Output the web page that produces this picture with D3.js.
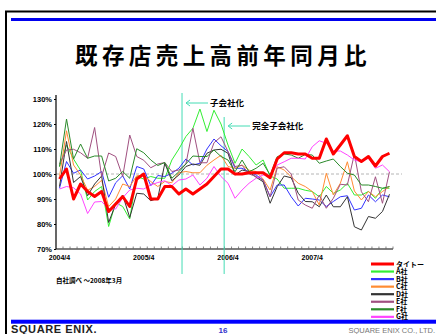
<!DOCTYPE html>
<html>
<head>
<meta charset="utf-8">
<script src="https://cdn.jsdelivr.net/npm/d3@7"></script>
<style>
  body { margin: 0; background: #fff; }
  svg { display: block; }
  text { font-family: Arial, "Liberation Sans", sans-serif; }
  .jp { font-family: "Noto Sans CJK JP", sans-serif; font-weight: 700; }
</style>
</head>
<body>
<div id="chart"></div>
<script>
// categories: 2004/4 .. 2008/3
const months = d3.range(48).map(i => `${2004 + Math.floor((i + 3) / 12)}/${(i + 3) % 12 + 1}`);
const tickLabels = ['2004/4', '2005/4', '2006/4', '2007/4'];
const yTicks = [70, 80, 90, 100, 110, 120, 130];

const seriesNames = ['タイトー', 'A社', 'B社', 'C社', 'D社', 'E社', 'F社', 'G社'];
const seriesColors = ['#ff0000', '#33ee33', '#3333ff', '#ff8c33', '#333333', '#a05080', '#2a8a2a', '#ff44ff'];

const taito = [98, 102, 90, 96, 93, 91, 93, 85, 88, 91, 87, 98, 100, 90, 90, 95, 95, 92, 94, 92, 94, 96, 99, 102,
  102, 100, 100, 100.5, 100.5, 100.5, 98.5, 106, 108.5, 108.5, 108, 108, 106.3, 106.3, 114, 108, 111.6, 115.3, 107, 105, 107, 103.2, 107, 108.3];
const compA = [103, 111.6, 106, 101.5, 89.6, 93, 95, 79, 88.5, 87, 82, 99, 98, 99, 98.3, 98.3, 105.6, 110, 115, 118.3, 126, 117, 125.5, 120,
  111.6, 104.3, 110, 107, 103.6, 105.6, 99.2, 98, 94.3, 94.3, 94.3, 93.5, 93, 90.9, 95, 92.3, 93.6, 96.3, 91.6, 91.6, 93, 90.3, 94.3, 94.3];
const compB = [94.3, 105, 100.3, 101.6, 98, 99.2, 101, 90.7, 96.5, 99.3, 94, 103, 102, 95.3, 99.4, 99, 100.3, 102.3, 106, 103.6, 104.3, 110, 114, 111.3,
  109, 102.3, 102.3, 100.9, 99.6, 97.6, 90.9, 95.6, 95.6, 90.9, 87.2, 90.3, 90, 89.6, 87, 89, 90.9, 91.3, 85.6, 86.3, 91.6, 88.9, 91.6, 90.9];
const compC = [99, 117.3, 103.6, 99.6, 93.5, 95, 97.5, 87, 90, 96, 95, 99.3, 99.5, 97, 95, 97, 96.5, 100.5, 101, 100.5, 100.5, 103.5, 105.6, 107.5,
  103, 102.3, 103.6, 101.5, 101, 98, 93.6, 102.9, 101.6, 98.9, 96.3, 95, 93, 87.6, 100.3, 91.6, 96.3, 104.9, 93.2, 89.6, 93, 90.9, 93, 95];
const compD = [95, 113, 96.6, 99, 91.3, 96, 99.2, 80.6, 88, 91.6, 82.6, 92.3, 92, 89.3, 90.3, 104.3, 97.3, 99.6, 103, 104, 103.5, 108.3, 109.6, 109.9,
  108.3, 99.6, 101.6, 100.9, 98.7, 96.9, 88.3, 94.9, 99.2, 98.5, 92.3, 89, 88.9, 86.9, 91.6, 86.9, 86.9, 90.9, 78.9, 77.6, 83, 82.3, 85, 91.9];
const compE = [104, 109.6, 109.9, 108.5, 106.3, 118.6, 99, 108.4, 107, 99, 115.6, 107, 105.5, 102.5, 104, 104.6, 101, 101.6, 104, 118.3, 104.5, 104.5, 112.5, 114.9,
  109, 103, 103.5, 100, 99, 97.5, 90.9, 102.3, 102.9, 100, 89.6, 87.6, 86.3, 91.6, 86.3, 90.3, 95.9, 95.6, 108, 92.9, 88.9, 98.9, 88.3, 100.9];
const compF = [103, 122, 106, 112, 106.3, 107.2, 107.2, 97.2, 98.3, 101, 98.3, 110.1, 108.5, 105.6, 103.4, 104.6, 98.3, 100.9, 104, 107.2, 107, 107, 109.6, 107,
  105.6, 100.9, 105.6, 100.9, 102.3, 104.3, 99.6, 106.9, 108, 107.6, 106.3, 107.8, 107.6, 104.3, 105.2, 106, 103, 100.3, 99.6, 95.6, 95.6, 95, 94.3, 95];
const compG = [94, 95, 94.5, 92, 84.2, 88.8, 89, 86, 86, 90.5, 93.6, 94.3, 94, 95.6, 96.6, 97.3, 95.3, 97.6, 98, 99.6, 95.6, 98.3, 103, 99,
  96.3, 90.3, 93.6, 96.3, 98.3, 99.6, 99.3, 103.6, 104.9, 106.3, 106.3, 106, 110.9, 113.3, 112.3, 109.2, 109.2, 107.6, 105.6, 104.9, 106.3, 102.3, 103.6, 100.9];

const seriesValues = [taito, compA, compB, compC, compD, compE, compF, compG];

// events
const events = [
  { label: '子会社化', after: '2005/9', top: 93, labelY: 103 },
  { label: '完全子会社化', after: '2006/3', top: 117, labelY: 126 }
];

const width = 436, height = 334;
const svg = d3.select('#chart').append('svg').attr('width', width).attr('height', height);

// frame
svg.append('path').attr('d', `M6,334 V11.5 H436`).attr('fill', 'none').attr('stroke', '#000').attr('stroke-width', 2);
svg.append('rect').attr('x', 11).attr('y', 18).attr('width', 425).attr('height', 3).attr('fill', '#0000ee');
svg.append('rect').attr('x', 11).attr('y', 319.7).attr('width', 425).attr('height', 4).attr('fill', '#0000ff');

svg.append('text').attr('class', 'jp')
  .attr('x', 223).attr('y', 64)
  .attr('text-anchor', 'middle')
  .attr('font-size', '22.5px')
  .attr('letter-spacing', '4.4px')
  .text('既存店売上高前年同月比');

const x = d3.scalePoint().domain(months).range([56, 393]).padding(0.5);
const y = d3.scaleLinear().domain([70, 130]).range([249, 99]);
const step = x.step();

// 100% reference
svg.append('line')
  .attr('x1', 56).attr('x2', 402)
  .attr('y1', y(100)).attr('y2', y(100))
  .attr('stroke', '#b4b4b4').attr('stroke-dasharray', '3,2');

// y axis
const yAxis = svg.append('g').attr('transform', 'translate(56,0)')
  .call(d3.axisLeft(y).tickValues(yTicks).tickSize(2).tickFormat(d => d + '%'));
yAxis.select('.domain').attr('d', `M0,${y(130) - 4}V${y(70)}`).attr('stroke-width', 1.2);
yAxis.selectAll('text').attr('font-size', '7.5px').attr('font-weight', 'bold').attr('x', -4).attr('dy', '0.35em');

// x axis
const xg = svg.append('g').attr('transform', `translate(0,${y(70)})`);
xg.append('line').attr('x1', 56).attr('x2', 393).attr('stroke', '#000').attr('stroke-width', 1.2);
xg.selectAll('.mt').data(months).enter().append('line')
  .attr('x1', d => x(d) + step / 2).attr('x2', d => x(d) + step / 2)
  .attr('y1', 0).attr('y2', -2.5).attr('stroke', '#666').attr('stroke-width', 0.8);
xg.selectAll('.xl').data(tickLabels).enter().append('text')
  .attr('x', d => x(d)).attr('y', 11)
  .attr('text-anchor', 'middle')
  .attr('font-size', '7px').attr('font-weight', 'bold')
  .text(d => d);

// event lines
const evX = d => x(d.after) + step * 0.45;
svg.selectAll('.ev').data(events).enter().append('line')
  .attr('x1', evX).attr('x2', evX)
  .attr('y1', d => d.top).attr('y2', 274)
  .attr('stroke', '#44dcb4').attr('stroke-width', 1);
svg.selectAll('.eva').data(events).enter().append('path')
  .attr('d', d => `M${evX(d) + 26},${d.labelY}H${evX(d) + 4}M${evX(d) + 8},${d.labelY - 3}L${evX(d) + 4},${d.labelY}L${evX(d) + 8},${d.labelY + 3}`)
  .attr('fill', 'none').attr('stroke', '#44dcb4').attr('stroke-width', 1);
svg.selectAll('.evt').data(events).enter().append('text').attr('class', 'jp')
  .attr('x', d => evX(d) + 28).attr('y', d => d.labelY).attr('dy', '0.35em')
  .attr('font-size', '8.5px')
  .text(d => d.label);

// series
const line = d3.line().x((d, i) => x(months[i])).y(d => y(d));
const order = [1, 2, 3, 4, 5, 6, 7, 0];
svg.selectAll('.series').data(order).enter().append('path')
  .attr('fill', 'none')
  .attr('stroke', k => seriesColors[k])
  .attr('stroke-width', k => k === 0 ? 3 : 1)
  .attr('stroke-linejoin', 'round')
  .attr('d', k => line(seriesValues[k]));

// legend
const lg = svg.append('g');
const ly = i => 264 + i * 7.55;
lg.selectAll('line').data(seriesNames).enter().append('line')
  .attr('x1', 371).attr('x2', 394)
  .attr('y1', (d, i) => ly(i)).attr('y2', (d, i) => ly(i))
  .attr('stroke', (d, i) => seriesColors[i])
  .attr('stroke-width', (d, i) => i === 0 ? 3 : 2.2);
lg.selectAll('text').data(seriesNames).enter().append('text').attr('class', 'jp')
  .attr('x', 396).attr('y', (d, i) => ly(i)).attr('dy', '0.36em')
  .attr('font-size', '7px')
  .text(d => d);

// note
svg.append('text').attr('class', 'jp')
  .attr('x', 56).attr('y', 281).attr('dy', '0.35em')
  .attr('font-size', '6.5px')
  .text('自社調べ ～2008年3月');

// footer
svg.append('text')
  .attr('x', 11).attr('y', 333)
  .attr('font-size', '11px').attr('font-weight', 'bold').attr('fill', '#222')
  .attr('letter-spacing', '0.6px')
  .text('SQUARE ENIX.');
svg.append('text')
  .attr('x', 223).attr('y', 333)
  .attr('text-anchor', 'middle')
  .attr('font-family', '"Liberation Serif", serif')
  .attr('font-size', '8px').attr('font-weight', 'bold').attr('fill', '#3333cc')
  .text('16');
svg.append('text')
  .attr('x', 435).attr('y', 333)
  .attr('text-anchor', 'end')
  .attr('font-size', '7.5px').attr('fill', '#777')
  .text('SQUARE ENIX CO., LTD.');
</script>
</body>
</html>
